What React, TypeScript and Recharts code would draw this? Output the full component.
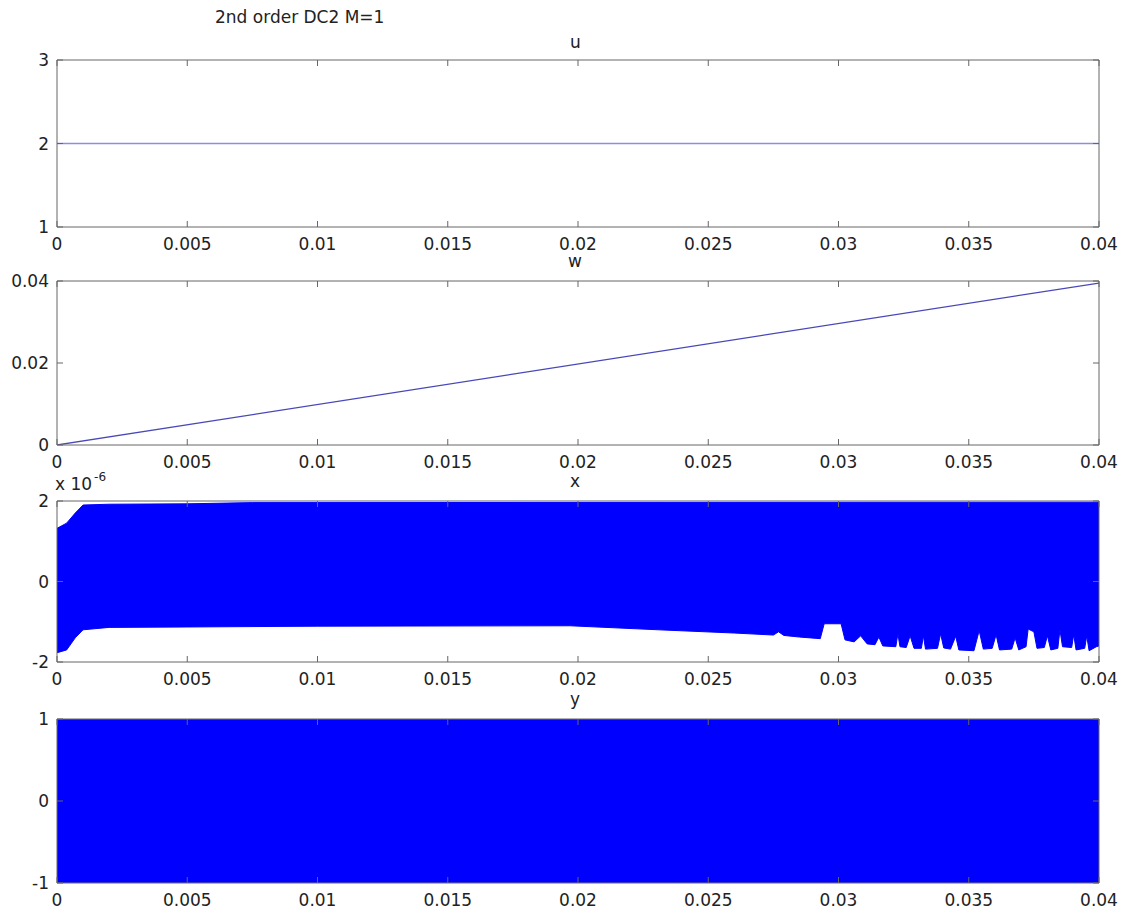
import React from 'react';
import { ComposedChart, Line, Area, XAxis, YAxis } from 'recharts';

const W = 1126;
const FONT = 'DejaVu Sans';

const xTicks = [0, 0.005, 0.01, 0.015, 0.02, 0.025, 0.03, 0.035, 0.04];
const xTickLabels = ['0', '0.005', '0.01', '0.015', '0.02', '0.025', '0.03', '0.035', '0.04'];

// u panel
const uTime = [0, 0.04];
const uValues = [2, 2];
const uYTicks = [1, 2, 3];
const uYLabels = ['1', '2', '3'];

// w panel
const wTime = [0, 0.04];
const wValues = [0, 0.0395];
const wYTicks = [0, 0.02, 0.04];
const wYLabels = ['0', '0.02', '0.04'];

// x panel: envelope of the dense oscillation, in units of 1e-6
const xUpperTime = [0, 0.00037, 0.0007, 0.001, 0.002, 0.005, 0.0075, 0.04];
const xUpperE6 = [1.32, 1.45, 1.7, 1.9, 1.92, 1.93, 1.96, 1.97];
const xLowerTime = [
  0, 0.00037, 0.0007, 0.001, 0.002, 0.005, 0.01, 0.0197, 0.0231, 0.026,
  0.0275, 0.0277, 0.0279, 0.0285, 0.0293, 0.02945, 0.0301, 0.03025, 0.0306, 0.03085,
  0.0311, 0.0314, 0.03155, 0.0317, 0.0322, 0.03228, 0.03236, 0.0326, 0.03275, 0.0329,
  0.03318, 0.03326, 0.03334, 0.0338, 0.03392, 0.03404, 0.0343, 0.0345, 0.03462, 0.0352,
  0.0354, 0.03556, 0.0359, 0.03605, 0.03618, 0.03665, 0.03678, 0.03692, 0.0372, 0.03728,
  0.0375, 0.03762, 0.0379, 0.03802, 0.03815, 0.03842, 0.0385, 0.0386, 0.03895, 0.03903,
  0.03912, 0.03945, 0.03953, 0.03962, 0.0399, 0.04,
];
const xLowerE6 = [
  -1.77, -1.7, -1.4, -1.2, -1.14, -1.13, -1.11, -1.1, -1.2, -1.28,
  -1.33, -1.25, -1.34, -1.38, -1.42, -1.05, -1.05, -1.45, -1.5, -1.35,
  -1.55, -1.57, -1.38, -1.6, -1.62, -1.3, -1.62, -1.64, -1.35, -1.66,
  -1.66, -1.35, -1.68, -1.66, -1.3, -1.65, -1.68, -1.36, -1.7, -1.72,
  -1.22, -1.68, -1.66, -1.32, -1.7, -1.68, -1.4, -1.7, -1.62, -1.18,
  -1.25, -1.66, -1.64, -1.35, -1.7, -1.66, -1.2, -1.62, -1.64, -1.32,
  -1.7, -1.66, -1.35, -1.72, -1.62, -1.6,
];
const xYTicks = [-2, 0, 2];
const xYLabels = ['-2', '0', '2'];

// y panel: dense switching between -1 and 1
const yTime = [0, 0.04];
const yUpper = [1, 1];
const yLower = [-1, -1];
const yYTicks = [-1, 0, 1];
const yYLabels = ['-1', '0', '1'];

const uData = uTime.map((t, i) => ({ t, v: uValues[i] }));
const wData = wTime.map((t, i) => ({ t, v: wValues[i] }));
const xUpperData = xUpperTime.map((t, i) => ({ t, v: xUpperE6[i] }));
const xLowerData = xLowerTime.map((t, i) => ({ t, v: xLowerE6[i] }));
const yData = yTime.map((t, i) => ({ t, r: [yLower[i], yUpper[i]] }));

const AX = '#666';
const TICKC = '#666';
const TL = 6; // inward tick length
const tickText = { fontSize: 17, fill: '#222', fontFamily: FONT };

const BottomTick = (m: number, fmt: (v: number) => string) => (p: any) => (
  <g>
    <path d={`M${p.x},${p.y - m}V${p.y - m - TL}`} stroke={TICKC} strokeWidth={1} fill="none" />
    <text x={p.x} y={p.y} dy="0.71em" textAnchor="middle" {...tickText}>{fmt(p.payload.value)}</text>
  </g>
);
const TopTick = (p: any) => (
  <path d={`M${p.x},${p.y}V${p.y + TL}`} stroke={TICKC} strokeWidth={1} fill="none" />
);
const LeftTick = (m: number, fmt: (v: number) => string) => (p: any) => (
  <g>
    <path d={`M${p.x + m},${p.y}H${p.x + m + TL}`} stroke={TICKC} strokeWidth={1} fill="none" />
    <text x={p.x} y={p.y} dy="0.355em" textAnchor="end" {...tickText}>{fmt(p.payload.value)}</text>
  </g>
);
const RightTick = (p: any) => (
  <path d={`M${p.x},${p.y}H${p.x - TL}`} stroke={TICKC} strokeWidth={1} fill="none" />
);

function Panel({ plotTop, plotBottom, data, yDomain, yTicks, yLabels, children }: any) {
  const mt = 9;
  const xh = 40;
  const H = mt + 1 + (plotBottom - plotTop) + xh;
  const yFmt = (v: number) => {
    const i = yTicks.indexOf(v);
    return i >= 0 ? yLabels[i] : String(v);
  };
  const xFmt = (v: number) => {
    const i = xTicks.indexOf(v);
    return i >= 0 ? xTickLabels[i] : String(v);
  };
  return (
    <div style={{ position: 'absolute', left: 0, top: plotTop - mt - 1, width: W, height: H }}>
      <ComposedChart width={W} height={H} data={data} margin={{ top: mt, right: 26, bottom: 0, left: 0 }}>
        {children}
        <XAxis xAxisId="b" dataKey="t" type="number" domain={[0, 0.04]} ticks={xTicks} interval={0}
          orientation="bottom" height={xh} tickSize={0} tickMargin={11}
          stroke={AX} tickLine={false} tick={BottomTick(11, xFmt)} allowDataOverflow />
        <XAxis xAxisId="t" dataKey="t" type="number" domain={[0, 0.04]} ticks={xTicks} interval={0}
          orientation="top" height={1} tickSize={0} tickMargin={0} tickLine={false} tick={TopTick}
          stroke={AX} allowDataOverflow />
        <YAxis yAxisId="l" type="number" domain={yDomain} ticks={yTicks} interval={0}
          orientation="left" width={57} tickSize={0} tickMargin={8} tickLine={false}
          tick={LeftTick(8, yFmt)} stroke={AX} allowDataOverflow />
        <YAxis yAxisId="r" type="number" domain={yDomain} ticks={yTicks} interval={0}
          orientation="right" width={1} tickSize={0} tickMargin={0} tickLine={false} tick={RightTick}
          stroke={AX} allowDataOverflow />
      </ComposedChart>
    </div>
  );
}

const textStyle: React.CSSProperties = {
  position: 'absolute', fontFamily: FONT, fontSize: 17, color: '#222', lineHeight: '20px', whiteSpace: 'nowrap',
};

export default function App() {
  return (
    <div style={{ position: 'absolute', left: 0, top: 0, width: W, height: 919, background: '#fff', overflow: 'hidden' }}>
      <Panel plotTop={60} plotBottom={227} data={uData} yDomain={[1, 3]} yTicks={uYTicks} yLabels={uYLabels}>
        <Line xAxisId="b" yAxisId="l" dataKey="v" type="linear" stroke="#8e8ee0" strokeWidth={1.5} dot={false} isAnimationActive={false} />
      </Panel>
      <Panel plotTop={281} plotBottom={445} data={wData} yDomain={[0, 0.04]} yTicks={wYTicks} yLabels={wYLabels}>
        <Line xAxisId="b" yAxisId="l" dataKey="v" type="linear" stroke="#4848b8" strokeWidth={1.3} dot={false} isAnimationActive={false} />
      </Panel>
      <Panel plotTop={501} plotBottom={662} data={xUpperData} yDomain={[-2, 2]} yTicks={xYTicks} yLabels={xYLabels}>
        <Area xAxisId="b" yAxisId="l" data={xUpperData} dataKey="v" baseValue={-0.5} type="linear" stroke="#0000ff" strokeWidth={1} fill="#0000ff" fillOpacity={1} dot={false} activeDot={false} isAnimationActive={false} />
        <Area xAxisId="b" yAxisId="l" data={xLowerData} dataKey="v" baseValue={0.5} type="linear" stroke="#0000ff" strokeWidth={1} fill="#0000ff" fillOpacity={1} dot={false} activeDot={false} isAnimationActive={false} />
      </Panel>
      <Panel plotTop={719} plotBottom={883} data={yData} yDomain={[-1, 1]} yTicks={yYTicks} yLabels={yYLabels}>
        <Area xAxisId="b" yAxisId="l" dataKey="r" type="linear" stroke="#2a2aff" strokeWidth={1} fill="#0000ff" fillOpacity={1} dot={false} activeDot={false} isAnimationActive={false} />
      </Panel>

      <div style={{ ...textStyle, left: 215, top: 7 }}>2nd order DC2 M=1</div>
      <div style={{ ...textStyle, left: 570, top: 32 }}>u</div>
      <div style={{ ...textStyle, left: 568, top: 251 }}>w</div>
      <div style={{ ...textStyle, left: 570, top: 471 }}>x</div>
      <div style={{ ...textStyle, left: 570, top: 689 }}>y</div>
      <div style={{ ...textStyle, left: 55, top: 474 }}>
        x 10<span style={{ fontSize: 12, position: 'relative', top: -9, marginLeft: 2 }}>-6</span>
      </div>
    </div>
  );
}
